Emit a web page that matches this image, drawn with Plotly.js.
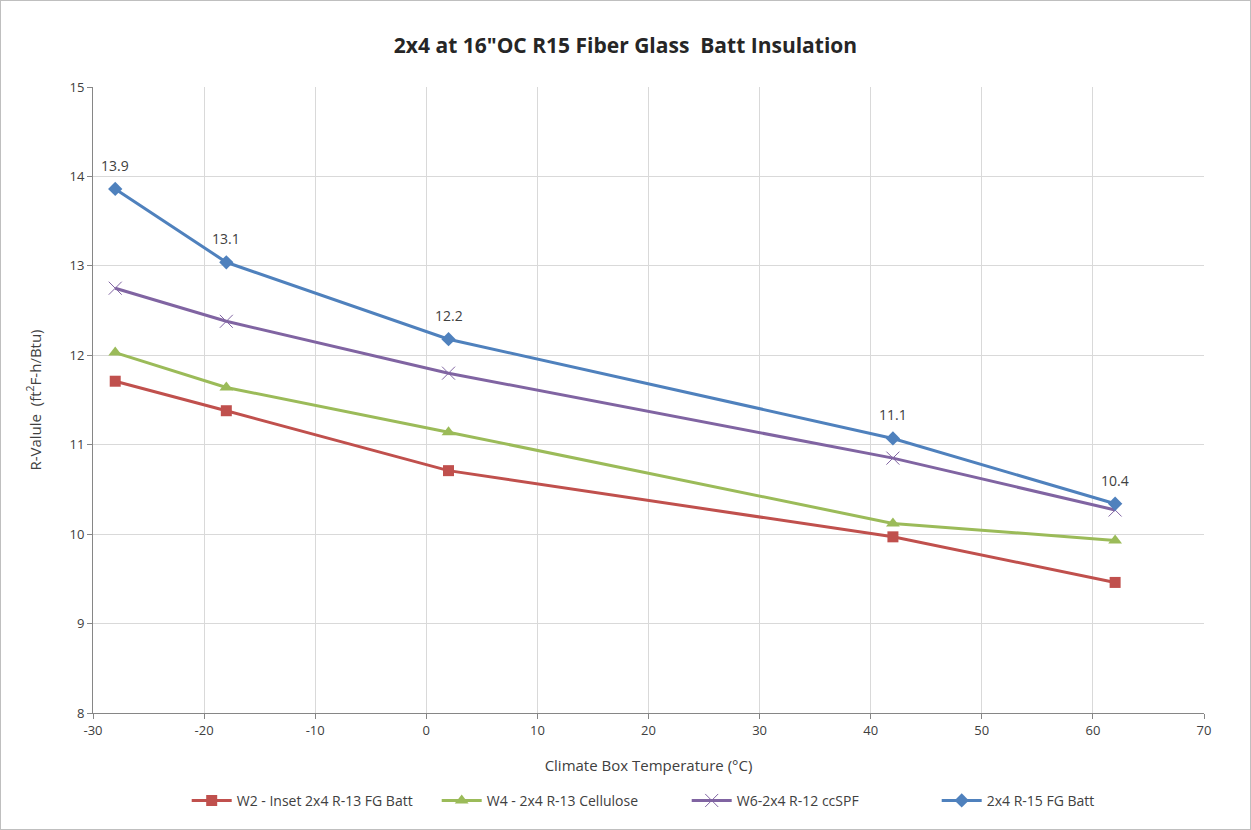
<!DOCTYPE html>
<html>
<head>
<meta charset="utf-8">
<script src="https://cdn.plot.ly/plotly-3.0.1.min.js"></script>
<style>
html,body{margin:0;padding:0;background:#fff;}
#chart{width:1249px;height:828px;border:1px solid #bfbfbf;}
</style>
</head>
<body>
<div id="chart"></div>
<script>
var temps = [-28, -18, 2, 42, 62];
var w2 = [11.71, 11.38, 10.71, 9.97, 9.46];
var w4 = [12.03, 11.64, 11.14, 10.12, 9.93];
var w6 = [12.75, 12.38, 11.80, 10.85, 10.27];
var fg15 = [13.86, 13.04, 12.18, 11.07, 10.34];
var fg15Labels = ['13.9', '13.1', '12.2', '11.1', '10.4'];
var seriesNames = ['W2 - Inset 2x4 R-13 FG Batt', 'W4 - 2x4 R-13 Cellulose', 'W6-2x4 R-12 ccSPF', '2x4 R-15 FG Batt'];
var xTicks = [-30, -20, -10, 0, 10, 20, 30, 40, 50, 60, 70];
var yTicks = [8, 9, 10, 11, 12, 13, 14, 15];

var font = 'Open Sans, Noto Sans, sans-serif';
var traces = [
  {x: temps, y: w2, name: seriesNames[0], mode: 'lines+markers',
   line: {color: '#C0504D', width: 3}, marker: {symbol: 'square', size: 11, color: '#C0504D'}},
  {x: temps, y: w4, name: seriesNames[1], mode: 'lines+markers',
   line: {color: '#9BBB59', width: 3}, marker: {symbol: 'triangle-up', size: 12, color: '#9BBB59'}},
  {x: temps, y: w6, name: seriesNames[2], mode: 'lines+markers',
   line: {color: '#8064A2', width: 3}, marker: {symbol: 'x-thin-open', size: 13, color: '#8064A2', line: {width: 1, color: '#8064A2'}}},
  {x: temps, y: fg15, name: seriesNames[3], mode: 'lines+markers',
   line: {color: '#4F81BD', width: 3}, marker: {symbol: 'diamond', size: 11, color: '#4F81BD'}}
];

var annotations = temps.map(function (t, i) {
  return {x: t, y: fg15[i], xref: 'x', yref: 'y', text: fg15Labels[i], showarrow: false,
          yanchor: 'bottom', yshift: 12, font: {family: font, size: 14, color: '#404040'}};
});

var layout = {
  width: 1249, height: 828,
  margin: {l: 92, r: 46, t: 86, b: 116},
  paper_bgcolor: '#fff', plot_bgcolor: '#fff',
  font: {family: font, size: 13, color: '#404040'},
  title: {text: '<b>2x4 at 16"OC R15 Fiber Glass  Batt Insulation</b>', x: 0.5, xanchor: 'center', y: 0.955,
          font: {family: font, size: 21, color: '#262626'}},
  xaxis: {range: [-30, 70], tickvals: xTicks, ticktext: xTicks.map(String),
          showgrid: true, gridcolor: '#d9d9d9', gridwidth: 1, zeroline: false,
          showline: true, linecolor: '#868686', linewidth: 1,
          ticks: 'outside', ticklen: 5, tickcolor: '#868686',
          tickfont: {size: 13, color: '#404040'},
          title: {text: 'Climate Box Temperature (°C)', font: {size: 15, color: '#404040'}, standoff: 22}},
  yaxis: {range: [8, 15], tickvals: yTicks, ticktext: yTicks.map(String),
          showgrid: true, gridcolor: '#d9d9d9', gridwidth: 1, zeroline: false,
          showline: true, linecolor: '#868686', linewidth: 1,
          ticks: 'outside', ticklen: 5, tickcolor: '#868686',
          tickfont: {size: 13, color: '#404040'},
          title: {text: 'R-Valule  (ft<sup>2</sup>F-h/Btu)', font: {size: 15, color: '#404040'}, standoff: 24}},
  legend: {orientation: 'h', xref: 'container', yref: 'container', x: 0.549, xanchor: 'center', y: 0.034, yanchor: 'middle',
           font: {size: 14, color: '#404040'}, itemwidth: 40, entrywidth: 195, entrywidthmode: 'pixels'},
  annotations: annotations,
  showlegend: true
};

Plotly.newPlot('chart', traces, layout, {displayModeBar: false, staticPlot: true});
</script>
</body>
</html>
